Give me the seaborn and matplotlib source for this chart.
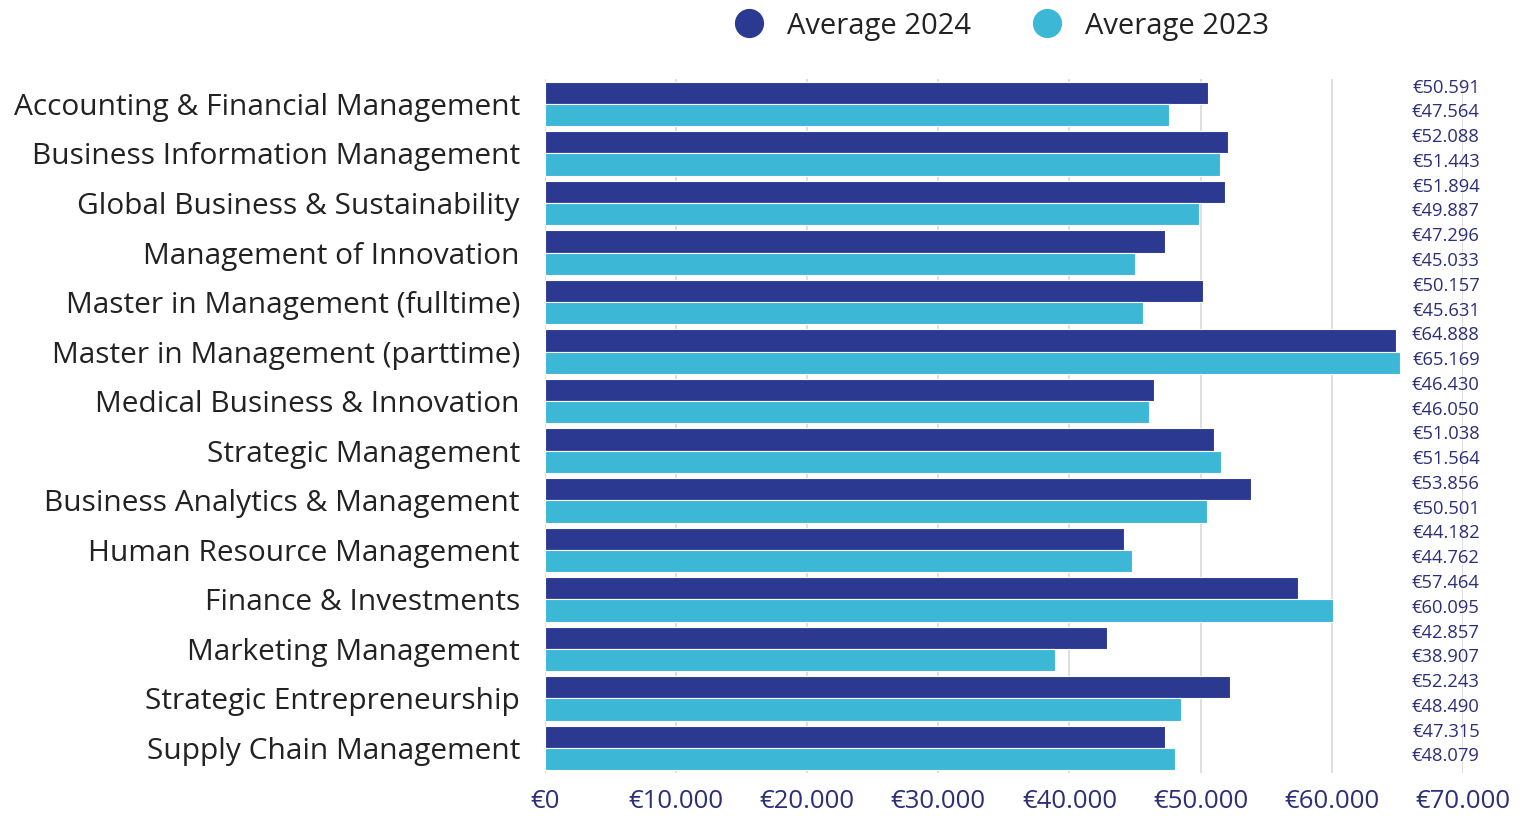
"""Average salary per master programme, 2024 vs 2023."""

import matplotlib
matplotlib.use("Agg")
import matplotlib.pyplot as plt
import matplotlib.ticker as mticker
from matplotlib.lines import Line2D
import seaborn as sns
import pandas as pd

programmes = [
    "Accounting & Financial Management",
    "Business Information Management",
    "Global Business & Sustainability",
    "Management of Innovation",
    "Master in Management (fulltime)",
    "Master in Management (parttime)",
    "Medical Business & Innovation",
    "Strategic Management",
    "Business Analytics & Management",
    "Human Resource Management",
    "Finance & Investments",
    "Marketing Management",
    "Strategic Entrepreneurship",
    "Supply Chain Management",
]
avg_2024 = [50591, 52088, 51894, 47296, 50157, 64888, 46430,
            51038, 53856, 44182, 57464, 42857, 52243, 47315]
avg_2023 = [47564, 51443, 49887, 45033, 45631, 65169, 46050,
            51564, 50501, 44762, 60095, 38907, 48490, 48079]
series = ["Average 2024", "Average 2023"]
x_ticks = [0, 10000, 20000, 30000, 40000, 50000, 60000, 70000]

NAVY = "#2b3990"
CYAN = "#3cb8d6"
LABEL_BLUE = "#2b2f78"

df = pd.DataFrame({
    "programme": programmes * 2,
    "series": [series[0]] * len(programmes) + [series[1]] * len(programmes),
    "value": avg_2024 + avg_2023,
})


def euro(v):
    return "€" + f"{int(v):,}".replace(",", ".")


sns.set_theme(style="white")
plt.rcParams["font.family"] = ["Open Sans", "DejaVu Sans"]

fig = plt.figure(figsize=(15.35, 8.16), dpi=100)
ax = fig.add_axes([0.355, 0.053, 0.598, 0.850])

sns.barplot(data=df, x="value", y="programme", hue="series", order=programmes,
            hue_order=series, palette=[NAVY, CYAN], saturation=1, orient="h",
            width=0.9, edgecolor="white", linewidth=0.8, ax=ax, legend=False,
            zorder=3)

ax.set_xlim(0, 70000)
ax.set_xticks(x_ticks)
ax.xaxis.set_major_formatter(mticker.FuncFormatter(lambda v, _: euro(v)))
ax.grid(axis="x", color="#dcdcdc", linewidth=1.3, zorder=0)
ax.grid(axis="y", visible=False)
for s in ax.spines.values():
    s.set_visible(False)
ax.tick_params(axis="x", labelsize=18.5, labelcolor=LABEL_BLUE, length=0, pad=12)
ax.tick_params(axis="y", labelsize=21.5, labelcolor="#222222", length=0, pad=18)
ax.set_xlabel("")
ax.set_ylabel("")

# value labels at right, two per category, evenly spaced
trans = ax.get_yaxis_transform()
for j, vals in enumerate([avg_2024, avg_2023]):
    for i, v in enumerate(vals):
        yc = i + (-0.25 if j == 0 else 0.25) - 0.08
        ax.text(1.0185, yc, euro(v), transform=trans,
                ha="right", va="center", fontsize=13.2, color=LABEL_BLUE)

handles = [Line2D([], [], marker="o", linestyle="", markersize=20,
                  markerfacecolor=c, markeredgecolor=c) for c in (NAVY, CYAN)]
fig.legend(handles, series, loc="center", bbox_to_anchor=(0.648, 0.968), ncol=2,
           frameon=False, fontsize=21, handletextpad=0.3, columnspacing=1.6,
           labelcolor="#222222")

fig.savefig("out.png", dpi=100)
plt.close(fig)
